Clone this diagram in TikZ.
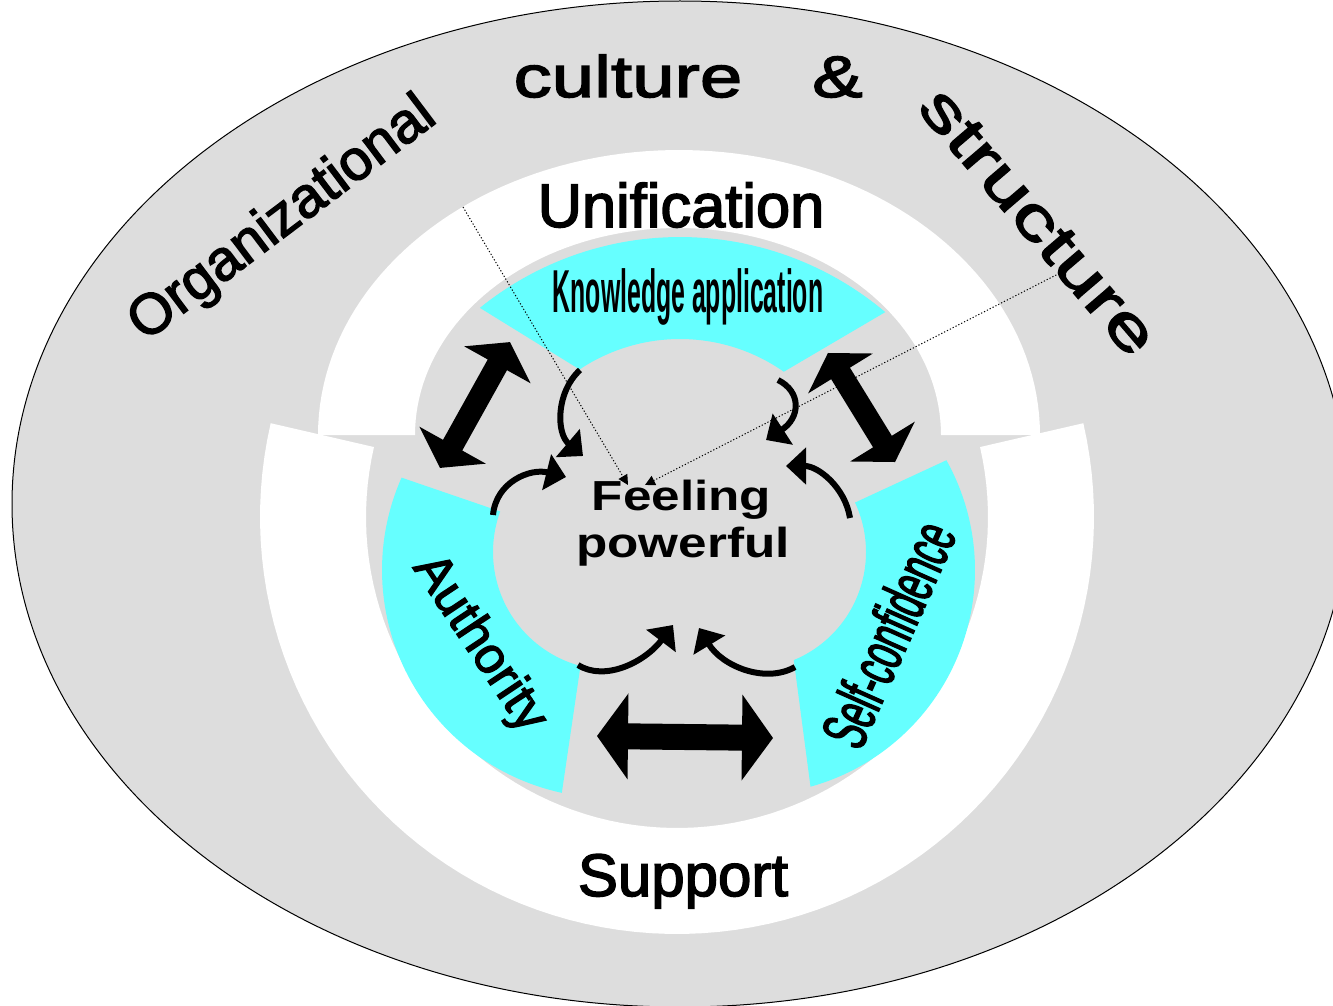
\documentclass[tikz,border=0pt]{standalone}
\usepackage{fontspec}
\setmainfont{Liberation Sans}
\newfontfamily\regfont[FakeBold=2.5]{Liberation Sans}
\newfontfamily\wideAfont[FakeStretch=1.3,FakeBold=2.5]{Liberation Sans}
\newfontfamily\wideBfont[FakeStretch=1.42,FakeBold=2.5]{Liberation Sans}
\newfontfamily\feelfont[FakeStretch=1.22]{Liberation Sans}
\newfontfamily\knowfont[FakeStretch=0.41]{Liberation Sans}
\newfontfamily\selffont[FakeStretch=0.54,FakeBold=2]{Liberation Sans}
\usetikzlibrary{arrows.meta}
\definecolor{bggray}{RGB}{221,221,221}
\definecolor{cyanfill}{RGB}{102,255,255}
% double block arrow: cx, cy, rotation, length, head length, head half width, shaft half width
\newcommand{\dblarrow}[7]{%
  \fill[black, shift={(#1,#2)}, rotate=#3]
    ({#4/2},0) -- ({#4/2-#5},#6) -- ({#4/2-#5},#7) -- ({-#4/2+#5},#7) -- ({-#4/2+#5},#6)
    -- ({-#4/2},0) -- ({-#4/2+#5},-#6) -- ({-#4/2+#5},-#7) -- ({#4/2-#5},-#7) -- ({#4/2-#5},-#6) -- cycle;}
\begin{document}
\begin{tikzpicture}[x=0.5pt,y=-0.5pt,
  lbl/.style={inner sep=0pt, text=black},
  curv/.style={line width=3pt, -{Triangle[length=10pt,width=18pt]}},
  dotline/.style={line width=0.5pt, dash pattern=on 0.6pt off 1pt, -{Triangle[length=5pt,width=5pt]}}]
\path[use as bounding box] (0,0) rectangle (1333,1006);
\clip (0,0) rectangle (1333,1006);
\fill[white] (0,0) rectangle (1333,1006);

% outer ellipse
\filldraw[fill=bggray, draw=black, line width=0.5pt] (680,504) ellipse [x radius=668, y radius=503];

% lower white ring (Support)
\fill[white] plot[domain=-13:193, samples=90] ({677+417*cos(\x)},{517+417*sin(\x)})
  -- plot[domain=193:-13, samples=90] ({677+311*cos(\x)},{517+311*sin(\x)}) -- cycle;
% upper white ring (Unification)
\fill[white] plot[domain=180:360, samples=90] ({679+361*cos(\x)},{435+285*sin(\x)})
  -- plot[domain=360:180, samples=90] ({678+263*cos(\x)},{435+207*sin(\x)}) -- cycle;

% cyan sectors
\fill[cyanfill] plot[domain=-129:-49.8, samples=60] ({680+318*cos(\x)},{555+318*sin(\x)})
  -- plot[domain=-55:-123.7, samples=60] ({680+181*cos(\x)},{520+181*sin(\x)}) -- cycle;
\fill[cyanfill] plot[domain=203.9:102.2, samples=60] ({610+228*cos(\x)},{570+228*sin(\x)})
  -- plot[domain=105:200.1, samples=60] ({611+118*cos(\x)},{552+118*sin(\x)}) -- cycle;
\fill[cyanfill] plot[domain=-29.2:74.4, samples=60] ({750+225*cos(\x)},{570+225*sin(\x)})
  -- plot[domain=67.5:-25, samples=60] ({749+117*cos(\x)},{552+117*sin(\x)}) -- cycle;

% big double arrows
\dblarrow{475}{405}{60.9}{144}{26}{38}{11}
\dblarrow{861.5}{407.5}{-58.4}{128}{24}{38}{11}
\dblarrow{685}{737}{-0.65}{176}{31}{43}{13}

% curved arrows
\coordinate (a1s) at (580,370); \coordinate (a1e) at (583,456);
\coordinate (a2s) at (778,380); \coordinate (a2e) at (766,440);
\coordinate (a3s) at (493,515); \coordinate (a3e) at (566,477);
\coordinate (a4s) at (850,518); \coordinate (a4e) at (786,466);
\coordinate (a5s) at (578,665); \coordinate (a5e) at (673,625);
\coordinate (a6s) at (795,667); \coordinate (a6e) at (699,628);
\draw[curv] (a1s) .. controls (556,392) and (556,433) .. (a1e);
\draw[curv] (a2s) .. controls (802,392) and (800,418) .. (a2e);
\draw[curv] (a3s) .. controls (496,482) and (530,468) .. (a3e);
\draw[curv] (a4s) .. controls (845,487) and (818,466) .. (a4e);
\draw[curv] (a5s) .. controls (605,682) and (645,662) .. (a5e);
\draw[curv] (a6s) .. controls (765,684) and (722,666) .. (a6e);

% dotted pointers
\coordinate (d1s) at (463,207); \coordinate (d1e) at (628,485);
\coordinate (d2s) at (1062,272); \coordinate (d2e) at (645,485);
\draw[dotline] (d1s) -- (d1e);
\draw[dotline] (d2s) -- (d2e);

% texts
\node[lbl, rotate=37, font=\regfont\fontsize{28.5pt}{30pt}\selectfont] (org) at (283,220) {Organizational};
\node[lbl, anchor=base, font=\wideAfont\fontsize{29.3pt}{32pt}\selectfont] (cult) at (628,97) {culture};
\node[lbl, anchor=base, font=\wideAfont\fontsize{29.3pt}{32pt}\selectfont] (amp) at (837.5,97) {\&};
\node[lbl, rotate=-49.5, font=\wideBfont\fontsize{30pt}{32pt}\selectfont] (struc) at (1038,222) {structure};
\node[lbl, anchor=base, font=\regfont\fontsize{30.7pt}{34pt}\selectfont] (unif) at (681,227) {Unification};
\node[lbl, anchor=base, font=\regfont\fontsize{30pt}{34pt}\selectfont] (supp) at (683,896) {Support};
\node[lbl, anchor=base, font=\knowfont\bfseries\fontsize{30.3pt}{34pt}\selectfont] (know) at (688,312) {Knowledge application};
\node[lbl, anchor=base, font=\feelfont\bfseries\fontsize{21pt}{24pt}\selectfont] (feel1) at (681.5,510) {Feeling};
\node[lbl, anchor=base, font=\feelfont\bfseries\fontsize{21pt}{24pt}\selectfont] (feel2) at (683,557) {powerful};
\node[lbl, rotate=-56.4, font=\regfont\fontsize{25.5pt}{28pt}\selectfont] (auth) at (479,644) {Authority};
\node[lbl, rotate=66, font=\selffont\fontsize{32pt}{34pt}\selectfont] (self) at (888,634) {Self-confidence};
\end{tikzpicture}
\end{document}
